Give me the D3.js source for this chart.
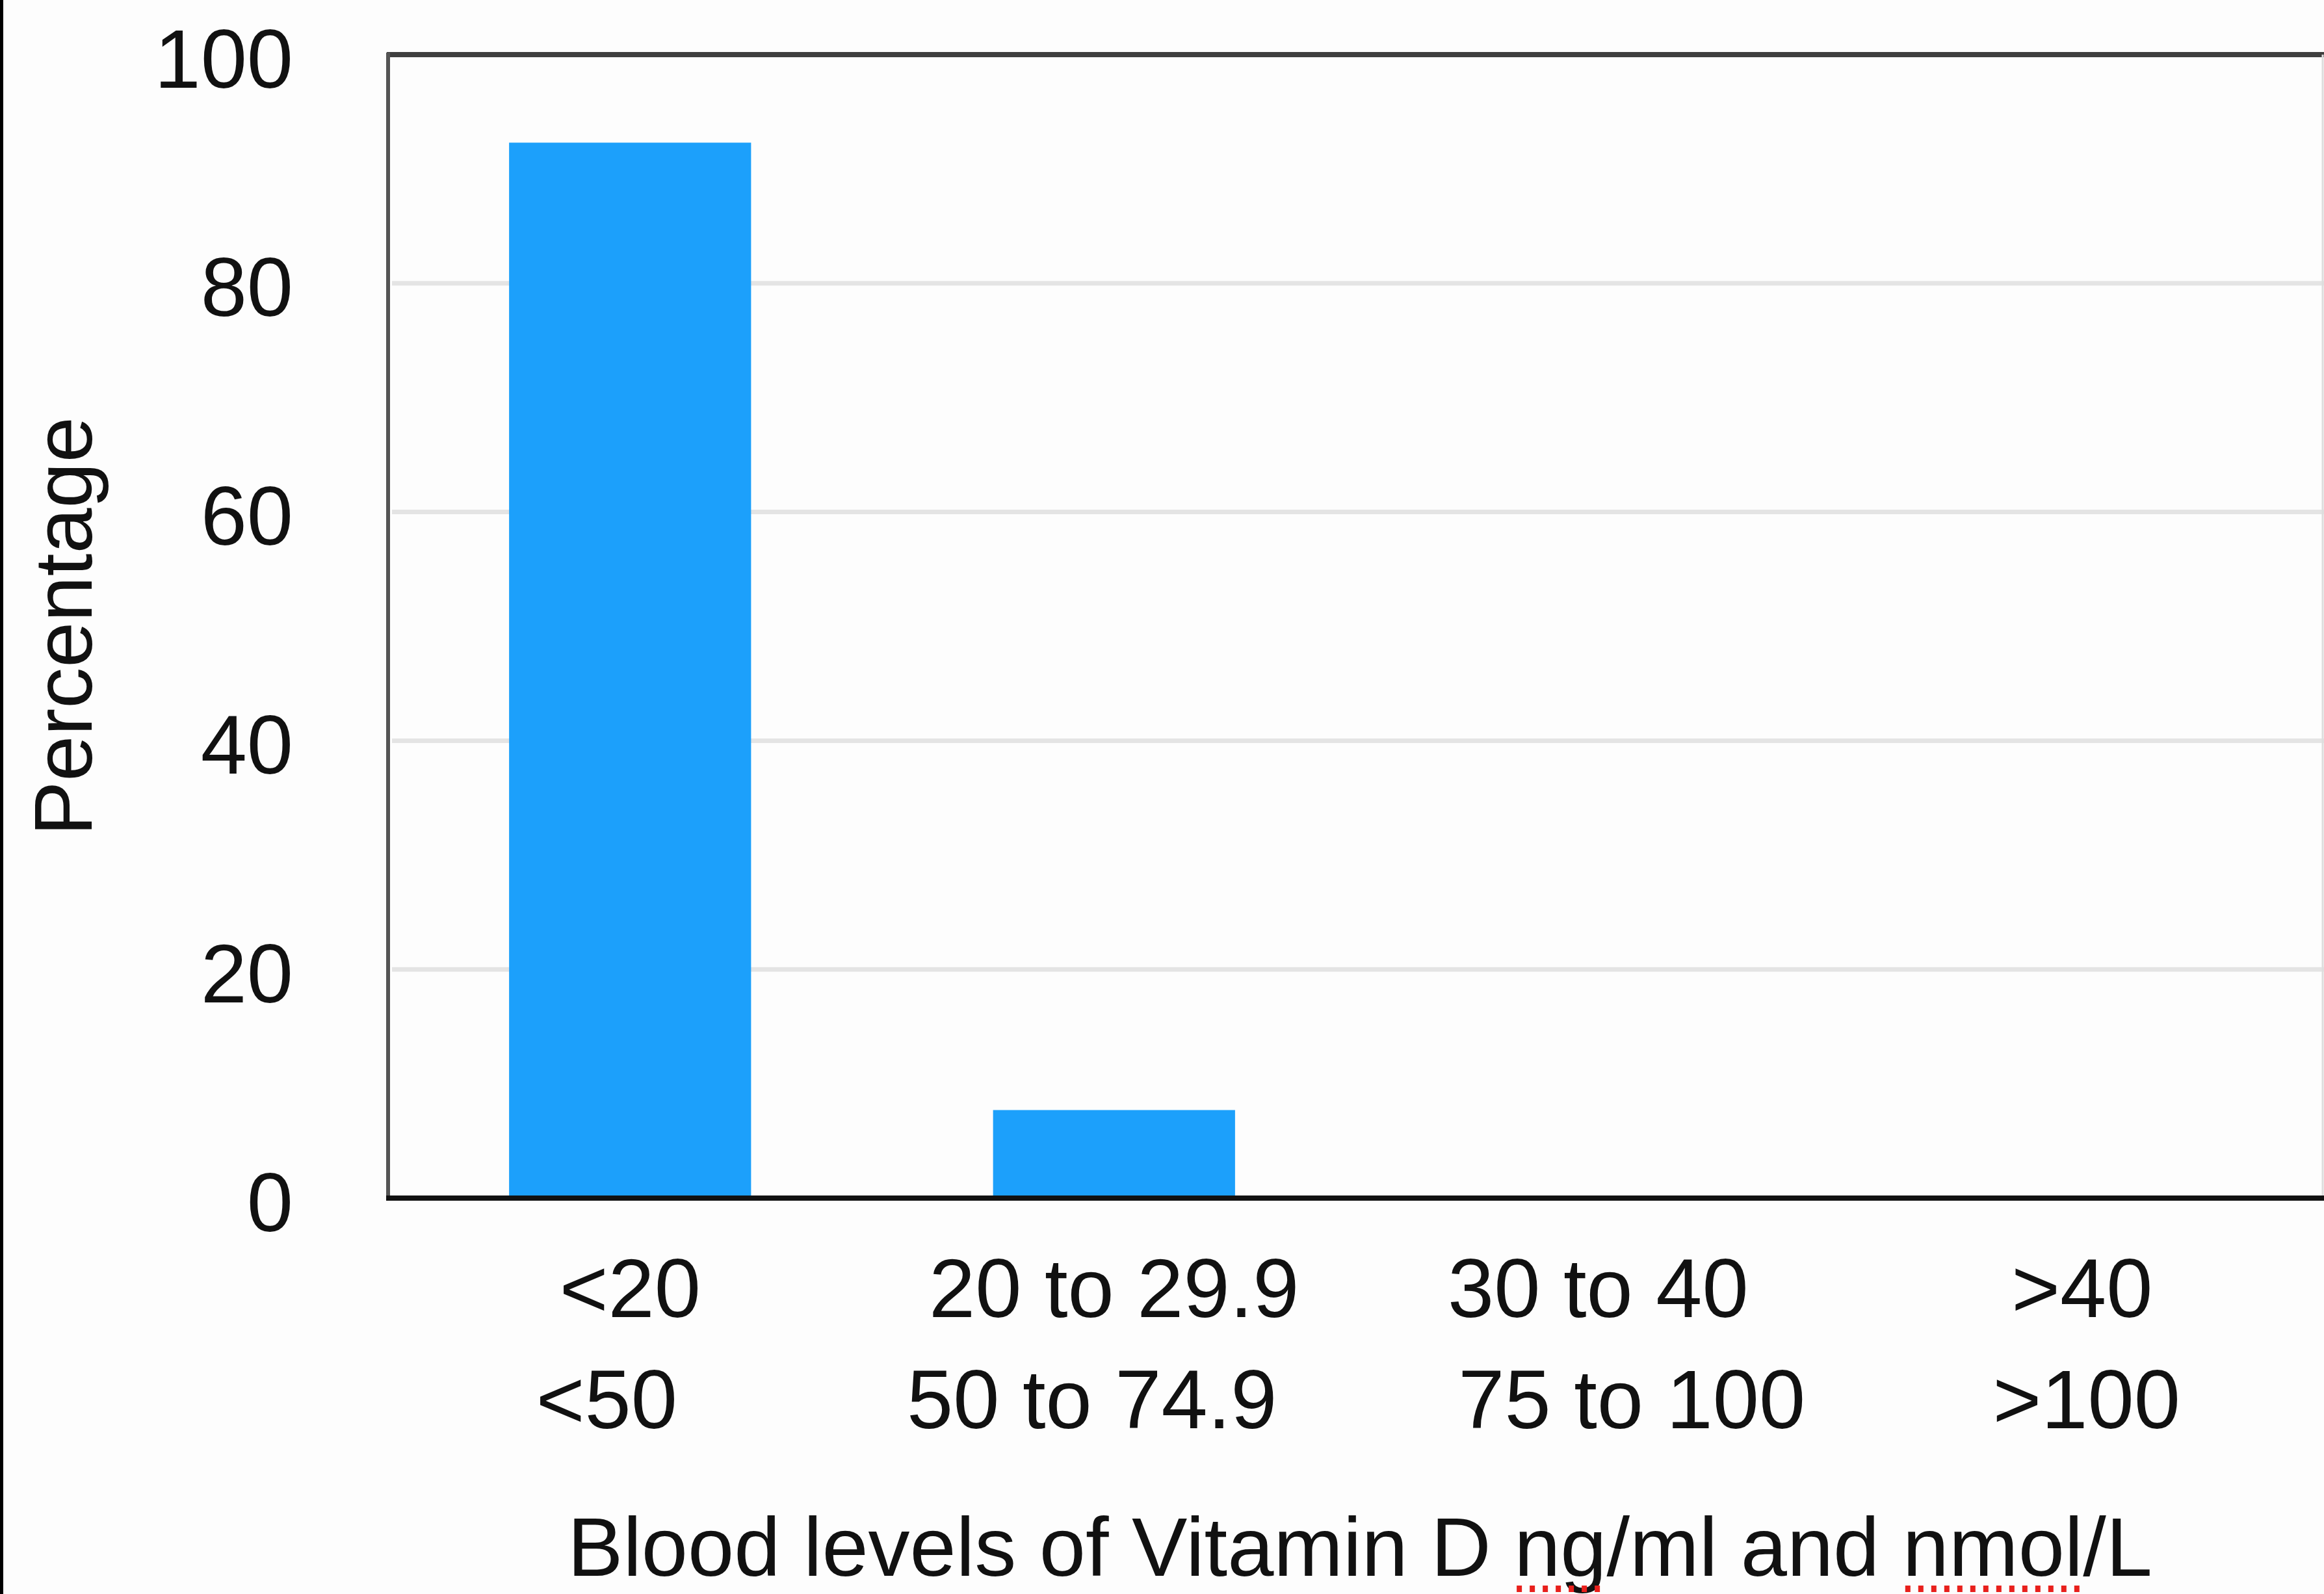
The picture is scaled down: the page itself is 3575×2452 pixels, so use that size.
<!DOCTYPE html>
<html>
<head>
<meta charset="utf-8">
<script src="https://cdn.jsdelivr.net/npm/d3@7"></script>
<style>
  html, body { margin: 0; padding: 0; background: #fdfdfd; }
  svg { display: block; }
</style>
</head>
<body>
<script>
// ---- data ----
const categories = ["<20", "20 to 29.9", "30 to 40", ">40"];
const labelsNgMl = ["<20", "20 to 29.9", "30 to 40", ">40"];
const labelsNmolL = ["<50", "50 to 74.9", "75 to 100", ">100"];
const percentages = [92.3, 7.7, 0, 0];
const yTicks = [0, 20, 40, 60, 80, 100];
const yGrid = [20, 40, 60, 80];
const yTitle = "Percentage";
const xTitleParts = ["Blood levels of Vitamin D ", "ng", "/ml and ", "nmol", "/L"];

// ---- layout ----
const W = 3575, H = 2452;
const pLeft = 597, pRight = 3575, pTop = 84, pBottom = 1843;
const font = "'Liberation Sans', Arial, Helvetica, sans-serif";
const fs = 126;
const line2Dx = [-36, -34, 52, 7];

const svg = d3.select("body").append("svg").attr("width", W).attr("height", H);
svg.append("rect").attr("width", W).attr("height", H).attr("fill", "#fdfdfd");
svg.append("rect").attr("x", 0).attr("y", 0).attr("width", 5).attr("height", H).attr("fill", "#000");

const x = d3.scaleBand().domain(categories).range([pLeft, pRight]).paddingInner(0.5).paddingOuter(0.25);
const y = d3.scaleLinear().domain([0, 100]).range([pBottom, pTop]);

// gridlines
svg.append("g").selectAll("line").data(yGrid).join("line")
  .attr("x1", pLeft + 6).attr("x2", pRight)
  .attr("y1", d => y(d)).attr("y2", d => y(d))
  .attr("stroke", "#e4e4e4").attr("stroke-width", 7);

// bars
svg.append("g").selectAll("rect").data(percentages).join("rect")
  .attr("x", (d, i) => x(categories[i]))
  .attr("width", x.bandwidth())
  .attr("y", d => y(d))
  .attr("height", d => y(0) - y(d))
  .attr("fill", "#1ca0fb");

// frame
svg.append("line").attr("x1", pLeft - 2).attr("x2", pRight).attr("y1", pTop).attr("y2", pTop)
  .attr("stroke", "#3f3f3f").attr("stroke-width", 8);
svg.append("line").attr("x1", pRight - 2).attr("x2", pRight - 2).attr("y1", pTop).attr("y2", pBottom)
  .attr("stroke", "#ddd").attr("stroke-width", 3);
svg.append("line").attr("x1", pLeft).attr("x2", pLeft).attr("y1", pTop - 3).attr("y2", pBottom)
  .attr("stroke", "#555").attr("stroke-width", 6);

// y axis via d3 axis (labels only)
const yAxis = d3.axisLeft(y).tickValues(yTicks).tickSize(0).tickPadding(0).tickFormat(d3.format("d"));
const gy = svg.append("g").attr("transform", `translate(${pLeft - 146},0)`).call(yAxis);
gy.select(".domain").remove();
gy.selectAll("text").attr("font-family", font).attr("font-size", fs + 2).attr("fill", "#111")
  .attr("dy", null).attr("y", 50).attr("text-anchor", "end");

// bottom axis line
svg.append("line").attr("x1", pLeft - 3).attr("x2", pRight).attr("y1", pBottom).attr("y2", pBottom)
  .attr("stroke", "#111").attr("stroke-width", 8);

// x labels
const gx = svg.append("g");
categories.forEach((c, i) => {
  const cx = x(c) + x.bandwidth() / 2;
  gx.append("text").attr("x", cx).attr("y", 2026).attr("text-anchor", "middle")
    .attr("font-family", font).attr("font-size", fs + 2).attr("fill", "#111").text(labelsNgMl[i]);
  gx.append("text").attr("x", cx + line2Dx[i]).attr("y", 2197).attr("text-anchor", "middle")
    .attr("font-family", font).attr("font-size", fs + 2).attr("fill", "#111").text(labelsNmolL[i]);
});

// y title
svg.append("text").attr("transform", `translate(141,${(pTop + pBottom) / 2}) rotate(-90)`)
  .attr("text-anchor", "middle").attr("font-family", font).attr("font-size", fs).attr("fill", "#111")
  .text(yTitle);

// x title with spellcheck-style underlines
const titleX = 2092, titleY = 2424;
const xt = svg.append("text").attr("x", titleX).attr("y", titleY).attr("text-anchor", "middle")
  .attr("font-family", font).attr("font-size", 128).attr("fill", "#111");
xt.selectAll("tspan").data(xTitleParts).join("tspan").text(d => d);
const node = xt.node();
const fullLen = node.getComputedTextLength();
const startX = titleX - fullLen / 2;
let offset = 0;
xTitleParts.forEach((p, i) => {
  const len = node.getSubStringLength(offset, p.length);
  const sx = startX + (offset > 0 ? node.getSubStringLength(0, offset) : 0);
  if (i === 1 || i === 3) {
    svg.append("line").attr("x1", sx + 4).attr("x2", sx + len - 4).attr("y1", 2444).attr("y2", 2444)
      .attr("stroke", "#e8201c").attr("stroke-width", 10).attr("stroke-dasharray", "8 12");
  }
  offset += p.length;
});
</script>
</body>
</html>
